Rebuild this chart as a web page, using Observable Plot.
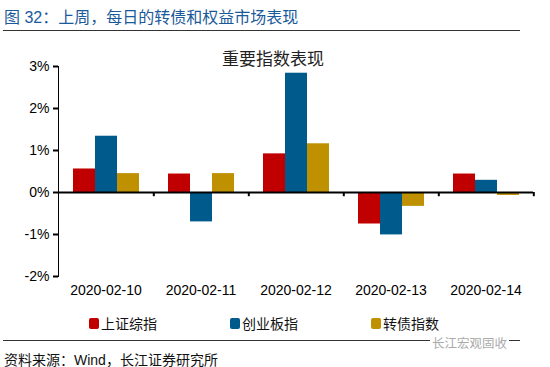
<!DOCTYPE html>
<html><head><meta charset="utf-8">
<script src="https://cdn.jsdelivr.net/npm/d3@7"></script>
<script src="https://cdn.jsdelivr.net/npm/@observablehq/plot@0.6"></script>
<style>
body{margin:0;background:#fff;font-family:"Liberation Sans",Arial,"Noto Sans CJK SC",sans-serif;}
#wrap{position:relative;width:550px;height:367px;overflow:hidden;}
.abs{position:absolute;white-space:nowrap;}
#title{left:4px;top:4px;font-size:16px;color:#1B5A9A;font-family:"Liberation Sans","Noto Sans CJK SC",sans-serif;}
.rule{position:absolute;left:3px;width:517px;height:0;border-top:1.5px solid #333;}
#sub{left:0;width:546px;text-align:center;top:45px;font-size:17px;color:#222;z-index:2;}
#chart{position:absolute;left:0;top:40px;}
#legend{top:313px;left:0;font-size:14px;color:#111;}
.li{position:absolute;display:flex;align-items:center;}
.sw{width:10px;height:11px;border-radius:2px;margin-right:2px;}
#source{left:4px;top:349px;font-size:14px;color:#111;}
#wm{left:430px;top:333px;font-size:12.5px;color:#aaa;background:#fff;padding:0 2px;}
</style></head>
<body>
<div id="wrap">
  <div class="abs" id="title">图 32：上周，每日的转债和权益市场表现</div>
  <div class="rule" style="top:30px"></div>
  <div class="abs" id="sub">重要指数表现</div>
  <div id="chart"></div>
  <div class="abs" id="legend"></div>
  <div class="rule" style="top:340px"></div>
  <div class="abs" id="wm">长江宏观固收</div>
  <div class="abs" id="source">资料来源：Wind，长江证券研究所</div>
</div>
<script>
const dates = ["2020-02-10","2020-02-11","2020-02-12","2020-02-13","2020-02-14"];
const series = ["上证综指","创业板指","转债指数"];
const colors = ["#C00000","#005A8C","#BF9000"];
const shValues = [0.56, 0.44, 0.92, -0.75, 0.44];
const cybValues = [1.34, -0.70, 2.84, -1.01, 0.29];
const cbValues = [0.45, 0.45, 1.16, -0.33, -0.07];
const yTicks = [-2, -1, 0, 1, 2, 3];

const allValues = [shValues, cybValues, cbValues];
const data = [];
dates.forEach((d, i) => series.forEach((s, j) => data.push({date: d, series: s, value: allValues[j][i]})));

const W = 550, H = 270, mL = 57, mR = 16, mT = 26, mB = 34;
const padOuter = 0.63;
const facetW = (W - mL - mR) / dates.length;
const xStep = facetW / (series.length + 2 * padOuter);

const chart = Plot.plot({
  width: W, height: H,
  marginLeft: mL, marginRight: mR, marginTop: mT, marginBottom: mB,
  style: {fontSize: "14px", fontFamily: "'Liberation Sans', Arial, sans-serif", color: "#000", background: "transparent"},
  fx: {domain: dates, padding: 0, axis: "bottom", label: null, tickSize: 0, tickPadding: 9},
  x: {domain: series, axis: null, paddingInner: 0, paddingOuter: padOuter},
  y: {domain: [-2, 3], ticks: yTicks, tickFormat: d => d + "%", tickSize: 5, tickPadding: 4, label: null, line: true},
  color: {domain: series, range: colors},
  marks: [
    Plot.barY(data, {fx: "date", x: "series", y: "value", fill: "series"}),
    Plot.ruleY([0], {stroke: "#000", strokeWidth: 2}),
    Plot.ruleX(dates, {fx: d => d, x: () => series[series.length - 1], y1: 0, y2: -0.1, dx: xStep * (padOuter + 0.5), stroke: "#000", strokeWidth: 2})
  ]
});
document.getElementById("chart").appendChild(chart);

const legend = document.getElementById("legend");
const lx = [89, 230, 371];
series.forEach((s, i) => {
  const it = document.createElement("div");
  it.className = "li";
  it.style.left = lx[i] + "px";
  it.innerHTML = `<span class="sw" style="background:${colors[i]}"></span><span>${s}</span>`;
  legend.appendChild(it);
});
</script>
<style>
#chart svg [aria-label="y-axis tick"] path, #chart svg [aria-label="y-axis tick"] line{stroke-width:2px;}
#chart svg [aria-label="y-axis line"], #chart svg [aria-label="y-axis line"] line, #chart svg [aria-label="y-axis line"] path{stroke-width:2px;}
</style>
</body></html>
